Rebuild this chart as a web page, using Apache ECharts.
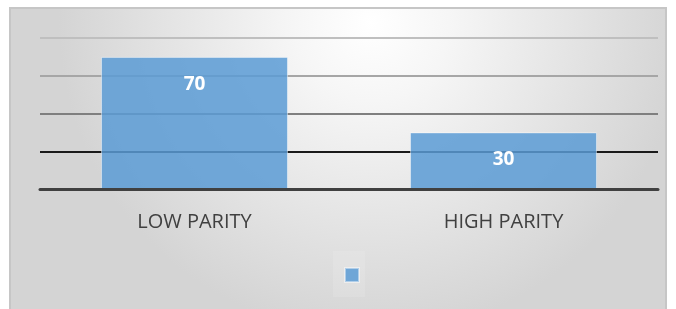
<!DOCTYPE html>
<html>
<head>
<meta charset="utf-8">
<script src="https://cdn.jsdelivr.net/npm/echarts@6/dist/echarts.min.js"></script>
<style>
  html, body { margin: 0; padding: 0; background: #ffffff; }
  #main { width: 676px; height: 309px; }
</style>
</head>
<body>
<div id="main"></div>
<script>
// chart data
let categories = ["LOW PARITY", "HIGH PARITY"]
let values = [70, 30]
let yTicks = [0, 20, 40, 60, 80]

var myChart = echarts.init(document.getElementById('main'));

var option = {
    animation: false,
    textStyle: { fontFamily: 'Open Sans' },
    graphic: [
        {
            type: 'rect',
            z: -10,
            shape: { x: 10, y: 8, width: 656, height: 310 },
            style: {
                fill: new echarts.graphic.RadialGradient(0.55, 0.05, 1.0, [
                    { offset: 0, color: '#ffffff' },
                    { offset: 0.25, color: '#f6f6f6' },
                    { offset: 1, color: '#d4d4d4' }
                ]),
                stroke: '#c6c6c6',
                lineWidth: 2
            }
        },
        {
            type: 'rect',
            z: -5,
            shape: { x: 333, y: 251, width: 32, height: 46 },
            style: { fill: 'rgba(255,255,255,0.12)' }
        }
    ],
    grid: { left: 40, right: 18, top: 38, bottom: 120 },
    legend: {
        left: 344,
        top: 267,
        padding: 0,
        itemWidth: 14,
        itemHeight: 14,
        formatter: function () { return '' },
        data: [{ name: ' ', icon: 'rect' }]
    },
    xAxis: {
        type: 'category',
        data: categories,
        axisTick: { show: false },
        axisLine: { lineStyle: { color: '#404040', width: 3 } },
        axisLabel: { fontSize: 20, color: '#404040', margin: 23 },
        z: 5
    },
    yAxis: {
        type: 'value',
        min: yTicks[0],
        max: yTicks[yTicks.length - 1],
        interval: 20,
        axisLabel: { show: false },
        axisLine: { show: false },
        axisTick: { show: false },
        splitLine: {
            lineStyle: {
                width: 2,
                color: ['#404040', '#1a1a1a', '#7f7f7f', '#a6a6a6', '#bfbfbf']
            }
        }
    },
    series: [
        {
            name: ' ',
            type: 'bar',
            data: values,
            barWidth: '60.5%',
            itemStyle: {
                color: 'rgba(91,155,213,0.85)',
                borderColor: 'rgba(255,255,255,0.45)',
                borderWidth: 1
            },
            label: {
                show: true,
                position: 'insideTop',
                distance: 18,
                color: '#ffffff',
                fontWeight: 'bold',
                fontSize: 19
            }
        }
    ]
};

myChart.setOption(option);
</script>
</body>
</html>
